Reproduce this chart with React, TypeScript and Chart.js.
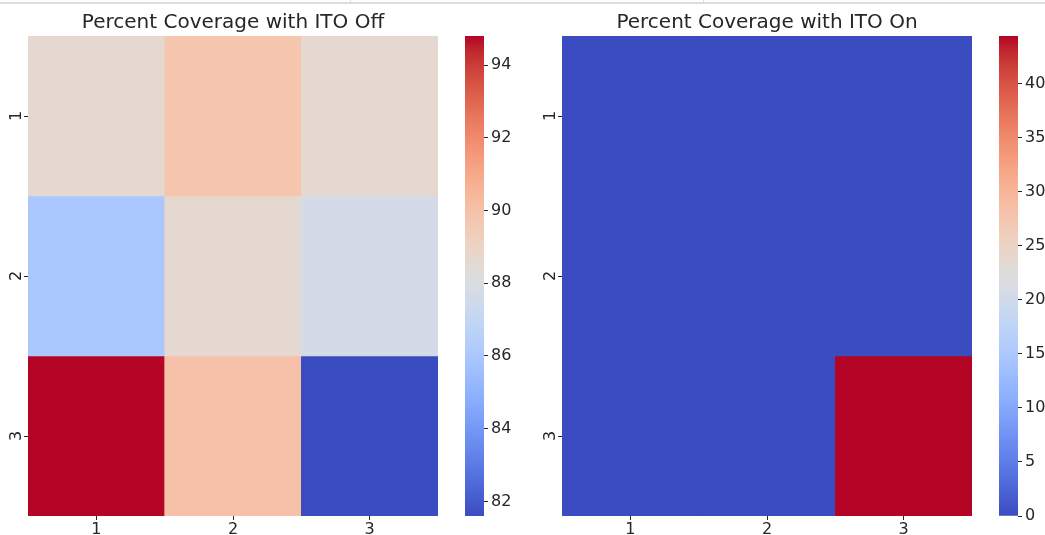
import React, { useEffect, useRef } from "react";
import { Chart, registerables } from "chart.js";

Chart.register(...registerables);

// ---------- data ----------
const titleOff = "Percent Coverage with ITO Off";
const titleOn = "Percent Coverage with ITO On";
const rowLabels = ["1", "2", "3"];
const colLabels = ["1", "2", "3"];
const offRow1 = [88.6, 89.8, 88.6];
const offRow2 = [86.0, 88.6, 87.7];
const offRow3 = [94.8, 90.0, 81.6];
const onRow1 = [0, 0, 0];
const onRow2 = [0, 0, 0];
const onRow3 = [0, 0, 44.4];
const offTicks = [82, 84, 86, 88, 90, 92, 94];
const onTicks = [0, 5, 10, 15, 20, 25, 30, 35, 40];

// ---------- style ----------
const FONT = "'DejaVu Sans', sans-serif";
const TEXT = "#262626";
const TICK_SIZE = 16;

// matplotlib coolwarm (Moreland) table
const COOLWARM: number[][] = [
  [0.0, 59, 76, 192], [0.03125, 68, 90, 204], [0.0625, 77, 104, 215], [0.09375, 87, 117, 225],
  [0.125, 98, 130, 234], [0.15625, 108, 142, 241], [0.1875, 119, 154, 247], [0.21875, 130, 165, 251],
  [0.25, 141, 176, 254], [0.28125, 152, 185, 255], [0.3125, 163, 194, 255], [0.34375, 174, 201, 253],
  [0.375, 184, 208, 249], [0.40625, 194, 213, 244], [0.4375, 204, 217, 238], [0.46875, 213, 219, 230],
  [0.5, 221, 221, 221], [0.53125, 229, 216, 209], [0.5625, 236, 211, 197], [0.59375, 241, 204, 185],
  [0.625, 245, 196, 173], [0.65625, 247, 187, 160], [0.6875, 247, 177, 148], [0.71875, 247, 166, 135],
  [0.75, 244, 154, 123], [0.78125, 241, 141, 111], [0.8125, 236, 127, 99], [0.84375, 229, 112, 88],
  [0.875, 222, 96, 77], [0.90625, 213, 80, 66], [0.9375, 203, 62, 56], [0.96875, 192, 40, 47],
  [1.0, 180, 4, 38],
];

function coolwarm(t: number): string {
  const x = Math.max(0, Math.min(1, t));
  for (let i = 1; i < COOLWARM.length; i++) {
    const a = COOLWARM[i - 1];
    const b = COOLWARM[i];
    if (x <= b[0]) {
      const f = (x - a[0]) / (b[0] - a[0]);
      const r = Math.round(a[1] + (b[1] - a[1]) * f);
      const g = Math.round(a[2] + (b[2] - a[2]) * f);
      const bl = Math.round(a[3] + (b[3] - a[3]) * f);
      return `rgb(${r},${g},${bl})`;
    }
  }
  return "rgb(180,4,38)";
}

function heatmapConfig(rows: number[][], title: string): any {
  const flat = rows.flat();
  const vmin = Math.min(...flat);
  const vmax = Math.max(...flat);
  const datasets = rows.map((vals, ri) => ({
    label: rowLabels[ri],
    data: colLabels.map(() => [ri, ri + 1]),
    backgroundColor: vals.map((v) => coolwarm((v - vmin) / (vmax - vmin))),
    borderWidth: 0,
    grouped: false,
    barPercentage: 1,
    categoryPercentage: 1,
  }));
  return {
    type: "bar",
    data: { labels: colLabels, datasets },
    options: {
      responsive: false,
      animation: false,
      devicePixelRatio: 1,
      layout: { padding: { left: 0, right: 0, top: 0, bottom: 0 } },
      plugins: {
        legend: { display: false },
        tooltip: { enabled: false },
        title: {
          display: true,
          text: title,
          fullSize: false,
          color: TEXT,
          font: { family: FONT, size: 20, weight: "normal", lineHeight: 1.2 },
          padding: { top: 11, bottom: 1 },
        },
      },
      scales: {
        x: {
          type: "category",
          offset: true,
          grid: { offset: false, drawOnChartArea: false, drawTicks: true, tickLength: 4, tickColor: TEXT, lineWidth: 1 },
          border: { display: false },
          ticks: { color: TEXT, font: { family: FONT, size: TICK_SIZE }, padding: 0, maxRotation: 0 },
          afterFit: (s: any) => { s.height = 19; },
        },
        y: {
          type: "linear",
          min: 0,
          max: rowLabels.length,
          reverse: true,
          grid: { drawOnChartArea: false, drawTicks: true, tickLength: 4, tickColor: TEXT, lineWidth: 1 },
          border: { display: false },
          afterBuildTicks: (s: any) => {
            s.ticks = rowLabels.map((_, i) => ({ value: i + 0.5 }));
          },
          ticks: {
            color: TEXT,
            font: { family: FONT, size: TICK_SIZE },
            padding: 2,
            minRotation: 90,
            maxRotation: 90,
            crossAlign: "center",
            autoSkip: false,
            callback: (v: number) => rowLabels[Math.floor(v)],
          },
          afterFit: (s: any) => { s.width = 28; },
        },
      },
    },
  };
}

function colorbarConfig(rows: number[][], ticks: number[], axisWidth: number): any {
  const flat = rows.flat();
  const vmin = Math.min(...flat);
  const vmax = Math.max(...flat);
  return {
    type: "bar",
    data: {
      labels: ["cb"],
      datasets: [
        {
          data: [[vmin, vmax]],
          borderWidth: 0,
          barPercentage: 1,
          categoryPercentage: 1,
          backgroundColor: (ctx: any) => {
            const area = ctx.chart.chartArea;
            if (!area) return "#ccc";
            const g = ctx.chart.ctx.createLinearGradient(0, area.bottom, 0, area.top);
            COOLWARM.forEach((c) => g.addColorStop(c[0], `rgb(${c[1]},${c[2]},${c[3]})`));
            return g;
          },
        },
      ],
    },
    options: {
      responsive: false,
      animation: false,
      devicePixelRatio: 1,
      layout: { padding: { left: 15, right: 0, top: 36, bottom: 19 } },
      plugins: { legend: { display: false }, tooltip: { enabled: false }, title: { display: false } },
      scales: {
        x: { display: false },
        y: {
          type: "linear",
          position: "right",
          min: vmin,
          max: vmax,
          grid: { drawOnChartArea: false, drawTicks: true, tickLength: 4, tickColor: TEXT, lineWidth: 1 },
          border: { display: false },
          afterBuildTicks: (s: any) => {
            s.ticks = ticks.map((v) => ({ value: v }));
          },
          ticks: { color: TEXT, font: { family: FONT, size: TICK_SIZE }, padding: 3, autoSkip: false },
          afterFit: (s: any) => { s.width = axisWidth; },
        },
      },
    },
  };
}

export default function App() {
  const h1 = useRef<HTMLCanvasElement>(null);
  const c1 = useRef<HTMLCanvasElement>(null);
  const h2 = useRef<HTMLCanvasElement>(null);
  const c2 = useRef<HTMLCanvasElement>(null);

  useEffect(() => {
    const offRows = [offRow1, offRow2, offRow3];
    const onRows = [onRow1, onRow2, onRow3];
    const charts = [
      new Chart(h1.current!, heatmapConfig(offRows, titleOff)),
      new Chart(c1.current!, colorbarConfig(offRows, offTicks, 56)),
      new Chart(h2.current!, heatmapConfig(onRows, titleOn)),
      new Chart(c2.current!, colorbarConfig(onRows, onTicks, 27)),
    ];
    return () => charts.forEach((c) => c.destroy());
  }, []);

  const abs = (left: number, width: number): React.CSSProperties => ({
    position: "absolute",
    left,
    top: 0,
    width,
    height: 535,
  });

  return (
    <div style={{ position: "fixed", left: 0, top: 0, width: 1045, height: 535, background: "#fff", overflow: "hidden" }}>
      <div style={{ position: "absolute", left: 0, top: 2, width: 1045, height: 2, background: "#dcdce6" }} />
      <div style={{ position: "absolute", left: 350, top: 0, width: 1, height: 3, background: "#dcdce6" }} />
      <div style={{ position: "absolute", left: 703, top: 0, width: 1, height: 3, background: "#dcdce6" }} />
      <canvas ref={h1} width={438} height={535} style={abs(0, 438)} />
      <canvas ref={c1} width={90} height={535} style={abs(450, 90)} />
      <canvas ref={h2} width={438} height={535} style={abs(534, 438)} />
      <canvas ref={c2} width={61} height={535} style={abs(984, 61)} />
    </div>
  );
}
